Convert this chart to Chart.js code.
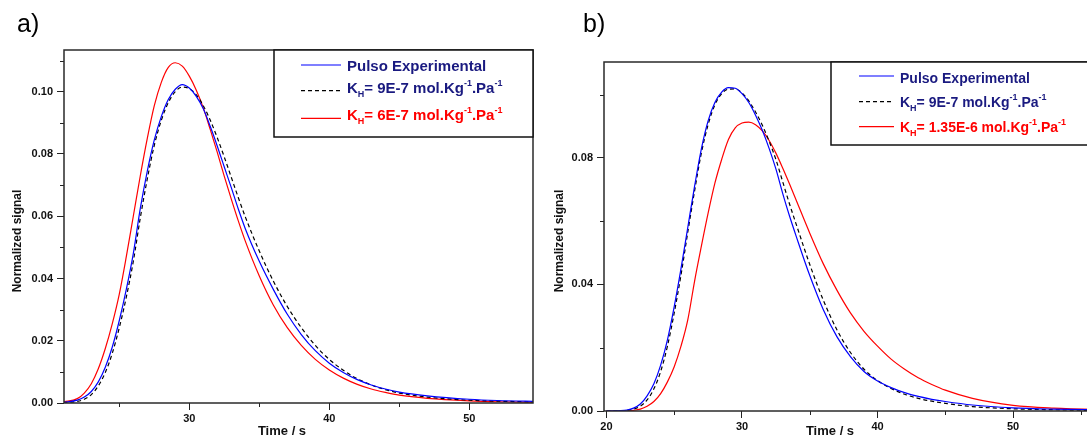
<!DOCTYPE html>
<html><head><meta charset="utf-8">
<script src="https://cdn.jsdelivr.net/npm/chart.js@4.4.1/dist/chart.umd.min.js"></script>
<style>
html,body{margin:0;padding:0;background:#fff;overflow:hidden;width:1087px;height:440px;position:relative}
.p{position:absolute;top:0}
</style></head><body>
<div class="p" style="left:0px;width:545px;height:440px"><canvas id="ca" width="545" height="440"></canvas></div>
<div class="p" style="left:545px;width:575px;height:440px"><canvas id="cb" width="575" height="440"></canvas></div>
<script>
// ---------- DATA ----------
// Panel a)
const timeA = [21,22,22.5,23,23.5,24,24.5,25,25.5,26,26.5,27,27.5,28,28.5,29,29.5,30,30.5,31,31.5,32,32.5,33,33.5,34,35,36,37,38,39,40,41,42,43,44,45,47,50,52,55];
const pulsoA = [0.0002,0.0009,0.0019,0.0037,0.0068,0.0115,0.018,0.0265,0.0365,0.048,0.0625,0.0745,0.0845,0.092,0.0975,0.1008,0.1023,0.1012,0.0985,0.0945,0.0888,0.0825,0.0758,0.0692,0.0623,0.056,0.0455,0.0365,0.0285,0.022,0.0168,0.0128,0.0098,0.0075,0.0058,0.0045,0.0035,0.0023,0.0012,0.0008,0.0005];
const kh9A = [0.0001,0.0005,0.0012,0.0027,0.0055,0.0098,0.016,0.0242,0.034,0.0455,0.0595,0.072,0.0828,0.0908,0.0965,0.1,0.1015,0.101,0.099,0.0955,0.0908,0.0852,0.079,0.0725,0.066,0.0598,0.0488,0.0392,0.031,0.0242,0.0185,0.014,0.0105,0.0078,0.0058,0.0043,0.0032,0.0019,0.0009,0.0006,0.0003];
const kh6A = [0.0003,0.0014,0.0032,0.0062,0.011,0.0175,0.0255,0.035,0.047,0.060,0.073,0.085,0.0955,0.103,0.1078,0.1093,0.1082,0.105,0.1005,0.0948,0.0878,0.0805,0.0728,0.0655,0.0585,0.052,0.0408,0.0315,0.0242,0.0185,0.014,0.0106,0.008,0.006,0.0045,0.0034,0.0025,0.0015,0.0007,0.0004,0.0002];
// Panel b)
const timeB = [20,21,21.5,22,22.5,23,23.5,24,24.5,25,25.5,26,26.5,27,27.5,28,28.5,29,29.5,30,30.5,31,31.5,32,32.5,33,33.5,34,35,36,37,38,39,40,41,42,43,44,45,47,50,53,56,58];
const pulsoB = [0,0.0001,0.0003,0.0009,0.0022,0.0048,0.0086,0.0145,0.0225,0.033,0.045,0.058,0.071,0.0828,0.0917,0.0975,0.1008,0.1022,0.102,0.1003,0.0975,0.0935,0.0887,0.083,0.0765,0.0688,0.0617,0.0552,0.0428,0.032,0.0235,0.0172,0.0125,0.0095,0.0074,0.0058,0.0046,0.0037,0.003,0.0019,0.001,0.0006,0.0004,0.0003];
const kh9B = [0,0.0001,0.0002,0.0006,0.0015,0.0035,0.007,0.0125,0.0205,0.031,0.043,0.0565,0.0695,0.0815,0.0905,0.0968,0.1003,0.1017,0.1018,0.1005,0.098,0.0945,0.0903,0.0853,0.0795,0.0725,0.0655,0.059,0.0463,0.035,0.0257,0.0185,0.0132,0.0096,0.0071,0.0053,0.004,0.0031,0.0024,0.0014,0.0007,0.0004,0.0002,0.0002];
const kh135B = [0,0,0,0.0002,0.0006,0.0015,0.003,0.0055,0.0092,0.014,0.0205,0.0288,0.041,0.052,0.0625,0.072,0.0795,0.0858,0.0895,0.091,0.0913,0.0905,0.0885,0.0855,0.0815,0.0768,0.0718,0.0666,0.0562,0.0465,0.0382,0.031,0.0252,0.0205,0.0164,0.0132,0.0105,0.0084,0.0066,0.004,0.0018,0.0009,0.0005,0.0004];
// Ticks
const xMajorA = [30,40,50], xMinorA = [25,35,45];
const yMajorA = [0,0.02,0.04,0.06,0.08,0.10], yMinorA = [0.01,0.03,0.05,0.07,0.09,0.11];
const xMajorB = [20,30,40,50], xMinorB = [25,35,45,55];
const yMajorB = [0,0.04,0.08], yMinorB = [0.02,0.06,0.10];
// Labels
const legendA = ['Pulso Experimental','K_{H}= 9E-7 mol.Kg^{-1}.Pa^{-1}','K_{H}= 6E-7 mol.Kg^{-1}.Pa^{-1}'];
const legendB = ['Pulso Experimental','K_{H}= 9E-7 mol.Kg^{-1}.Pa^{-1}','K_{H}= 1.35E-6 mol.Kg^{-1}.Pa^{-1}'];
const xTitle = 'Time / s', yTitle = 'Normalized signal';

// ---------- RENDERING ----------
const FONT = '"Liberation Sans", Arial, sans-serif';
const NAVY = '#1a1a80', BLUE = '#0000ff', RED = '#ff0000', BLACK = '#000000';

function parseRich(str){
  const segs=[]; const re=/(_\{([^}]*)\})|(\^\{([^}]*)\})|([^_^]+)/g; let m;
  while((m=re.exec(str))){ if(m[2]!==undefined) segs.push({t:m[2],k:'sub'}); else if(m[4]!==undefined) segs.push({t:m[4],k:'sup'}); else segs.push({t:m[5],k:'n'}); }
  return segs;
}
function drawRich(ctx,x,y,str,color,size){
  ctx.fillStyle=color; ctx.textAlign='left'; ctx.textBaseline='alphabetic';
  for(const s of parseRich(str)){
    let f=size, dy=0;
    if(s.k==='sub'){f=Math.round(size*0.62); dy=4;}
    else if(s.k==='sup'){f=Math.round(size*0.62); dy=-7;}
    ctx.font='bold '+f+'px '+FONT;
    ctx.fillText(s.t,x,y+dy);
    x+=ctx.measureText(s.t).width;
  }
}

const deco = {
  id:'deco',
  afterDraw(chart, args, o){
    const ctx=chart.ctx, ca=chart.chartArea, xs=chart.scales.x, ys=chart.scales.y;
    ctx.save();
    // minor ticks
    ctx.strokeStyle='#222'; ctx.lineWidth=1;
    o.xMinor.forEach(v=>{const px=Math.round(xs.getPixelForValue(v))+0.5; if(px<ca.left||px>ca.right) return;
      ctx.beginPath(); ctx.moveTo(px,ca.bottom); ctx.lineTo(px,ca.bottom+4); ctx.stroke();});
    o.yMinor.forEach(v=>{const py=Math.round(ys.getPixelForValue(v))+0.5; if(py<ca.top||py>ca.bottom) return;
      ctx.beginPath(); ctx.moveTo(ca.left,py); ctx.lineTo(ca.left-4,py); ctx.stroke();});
    // frame
    ctx.lineWidth=1.5; ctx.strokeStyle='#2a2a2a';
    ctx.strokeRect(ca.left,ca.top,ca.right-ca.left,ca.bottom-ca.top);
    // legend box
    const L=o.legend;
    ctx.fillStyle='#fff'; ctx.fillRect(L.box[0],L.box[1],L.box[2],L.box[3]);
    ctx.lineWidth=1.5; ctx.strokeStyle='#111'; ctx.strokeRect(L.box[0],L.box[1],L.box[2],L.box[3]);
    const cols=[BLUE,BLACK,RED], txtCols=[NAVY,NAVY,RED], dashes=[[],[4,3],[]];
    L.labels.forEach((lab,i)=>{
      ctx.strokeStyle=cols[i]; ctx.lineWidth=1.2; ctx.setLineDash(dashes[i]);
      ctx.beginPath(); ctx.moveTo(L.lineX[0],L.lineY[i]); ctx.lineTo(L.lineX[1],L.lineY[i]); ctx.stroke();
      ctx.setLineDash([]);
      drawRich(ctx,L.textX,L.baseY[i],lab,txtCols[i],L.size);
    });
    // panel label
    ctx.fillStyle='#000'; ctx.font='25px '+FONT; ctx.textAlign='left'; ctx.textBaseline='alphabetic';
    ctx.fillText(o.panel,o.panelPos[0],o.panelPos[1]);
    // axis titles
    ctx.font='bold 13px '+FONT; ctx.textAlign='center'; ctx.textBaseline='middle'; ctx.fillStyle='#111';
    ctx.fillText(xTitle,o.xTitlePos[0],o.xTitlePos[1]);
    ctx.translate(o.yTitlePos[0],o.yTitlePos[1]); ctx.rotate(-Math.PI/2);
    ctx.font='bold 12px '+FONT;
    ctx.fillText(yTitle,0,0);
    ctx.restore();
  }
};

function makeChart(id,c){
  const ds=(t,y,col,dash)=>({data:t.map((x,i)=>({x:x,y:y[i]})),borderColor:col,borderWidth:1.2,borderDash:dash,pointRadius:0,cubicInterpolationMode:'monotone',fill:false});
  return new Chart(document.getElementById(id),{
    type:'line',
    data:{datasets:[ds(c.t,c.s[0],BLUE,[]),ds(c.t,c.s[1],BLACK,[4,3]),ds(c.t,c.s[2],RED,[])]},
    options:{
      responsive:false, animation:false, devicePixelRatio:1,
      layout:{padding:{top:c.top,right:c.padRight,bottom:0,left:0}},
      plugins:{legend:{display:false},tooltip:{enabled:false},deco:c.deco},
      scales:{
        x:{type:'linear',min:c.xmin,max:c.xmax,
          afterBuildTicks:s=>{s.ticks=c.xMajor.map(v=>({value:v}));},
          afterFit:s=>{s.height=c.xH;},
          grid:{drawOnChartArea:false,tickLength:7,tickColor:'#222',tickWidth:1},
          border:{display:false},
          ticks:{color:'#111',font:{family:FONT,size:11,weight:'bold'},padding:2,maxRotation:0,autoSkip:false,callback:v=>String(v)}},
        y:{type:'linear',min:0,max:c.ymax,
          afterBuildTicks:s=>{s.ticks=c.yMajor.map(v=>({value:v}));},
          afterFit:s=>{s.width=c.yW;},
          grid:{drawOnChartArea:false,tickLength:7,tickColor:'#222',tickWidth:1},
          border:{display:false},
          ticks:{color:'#111',font:{family:FONT,size:11,weight:'bold'},padding:4,autoSkip:false,callback:v=>Number(v).toFixed(2)}}
      }
    },
    plugins:[deco]
  });
}

makeChart('ca',{t:timeA,s:[pulsoA,kh9A,kh6A],xmin:21.05,xmax:54.55,ymax:0.1134,top:50,padRight:12,xH:37,yW:64,
  xMajor:xMajorA,yMajor:yMajorA,
  deco:{xMinor:xMinorA,yMinor:yMinorA,panel:'a)',panelPos:[17,32],xTitlePos:[282,431],yTitlePos:[18,241],
    legend:{box:[274,50,259,87],lineX:[301,341],lineY:[65,90.7,118.3],textX:347,baseY:[70.7,93.3,120],size:15,labels:legendA}}});

makeChart('cb',{t:timeB,s:[pulsoB,kh9B,kh135B],xmin:19.82,xmax:57,ymax:0.1103,top:62,padRight:12,xH:29,yW:59,
  xMajor:xMajorB,yMajor:yMajorB,
  deco:{xMinor:xMinorB,yMinor:yMinorB,panel:'b)',panelPos:[38,32],xTitlePos:[285,431],yTitlePos:[15,241],
    legend:{box:[286,62,320,83],lineX:[314,349],lineY:[76,101.7,126.7],textX:355,baseY:[83.3,106.7,131.7],size:14,labels:legendB}}});
</script>
</body></html>
